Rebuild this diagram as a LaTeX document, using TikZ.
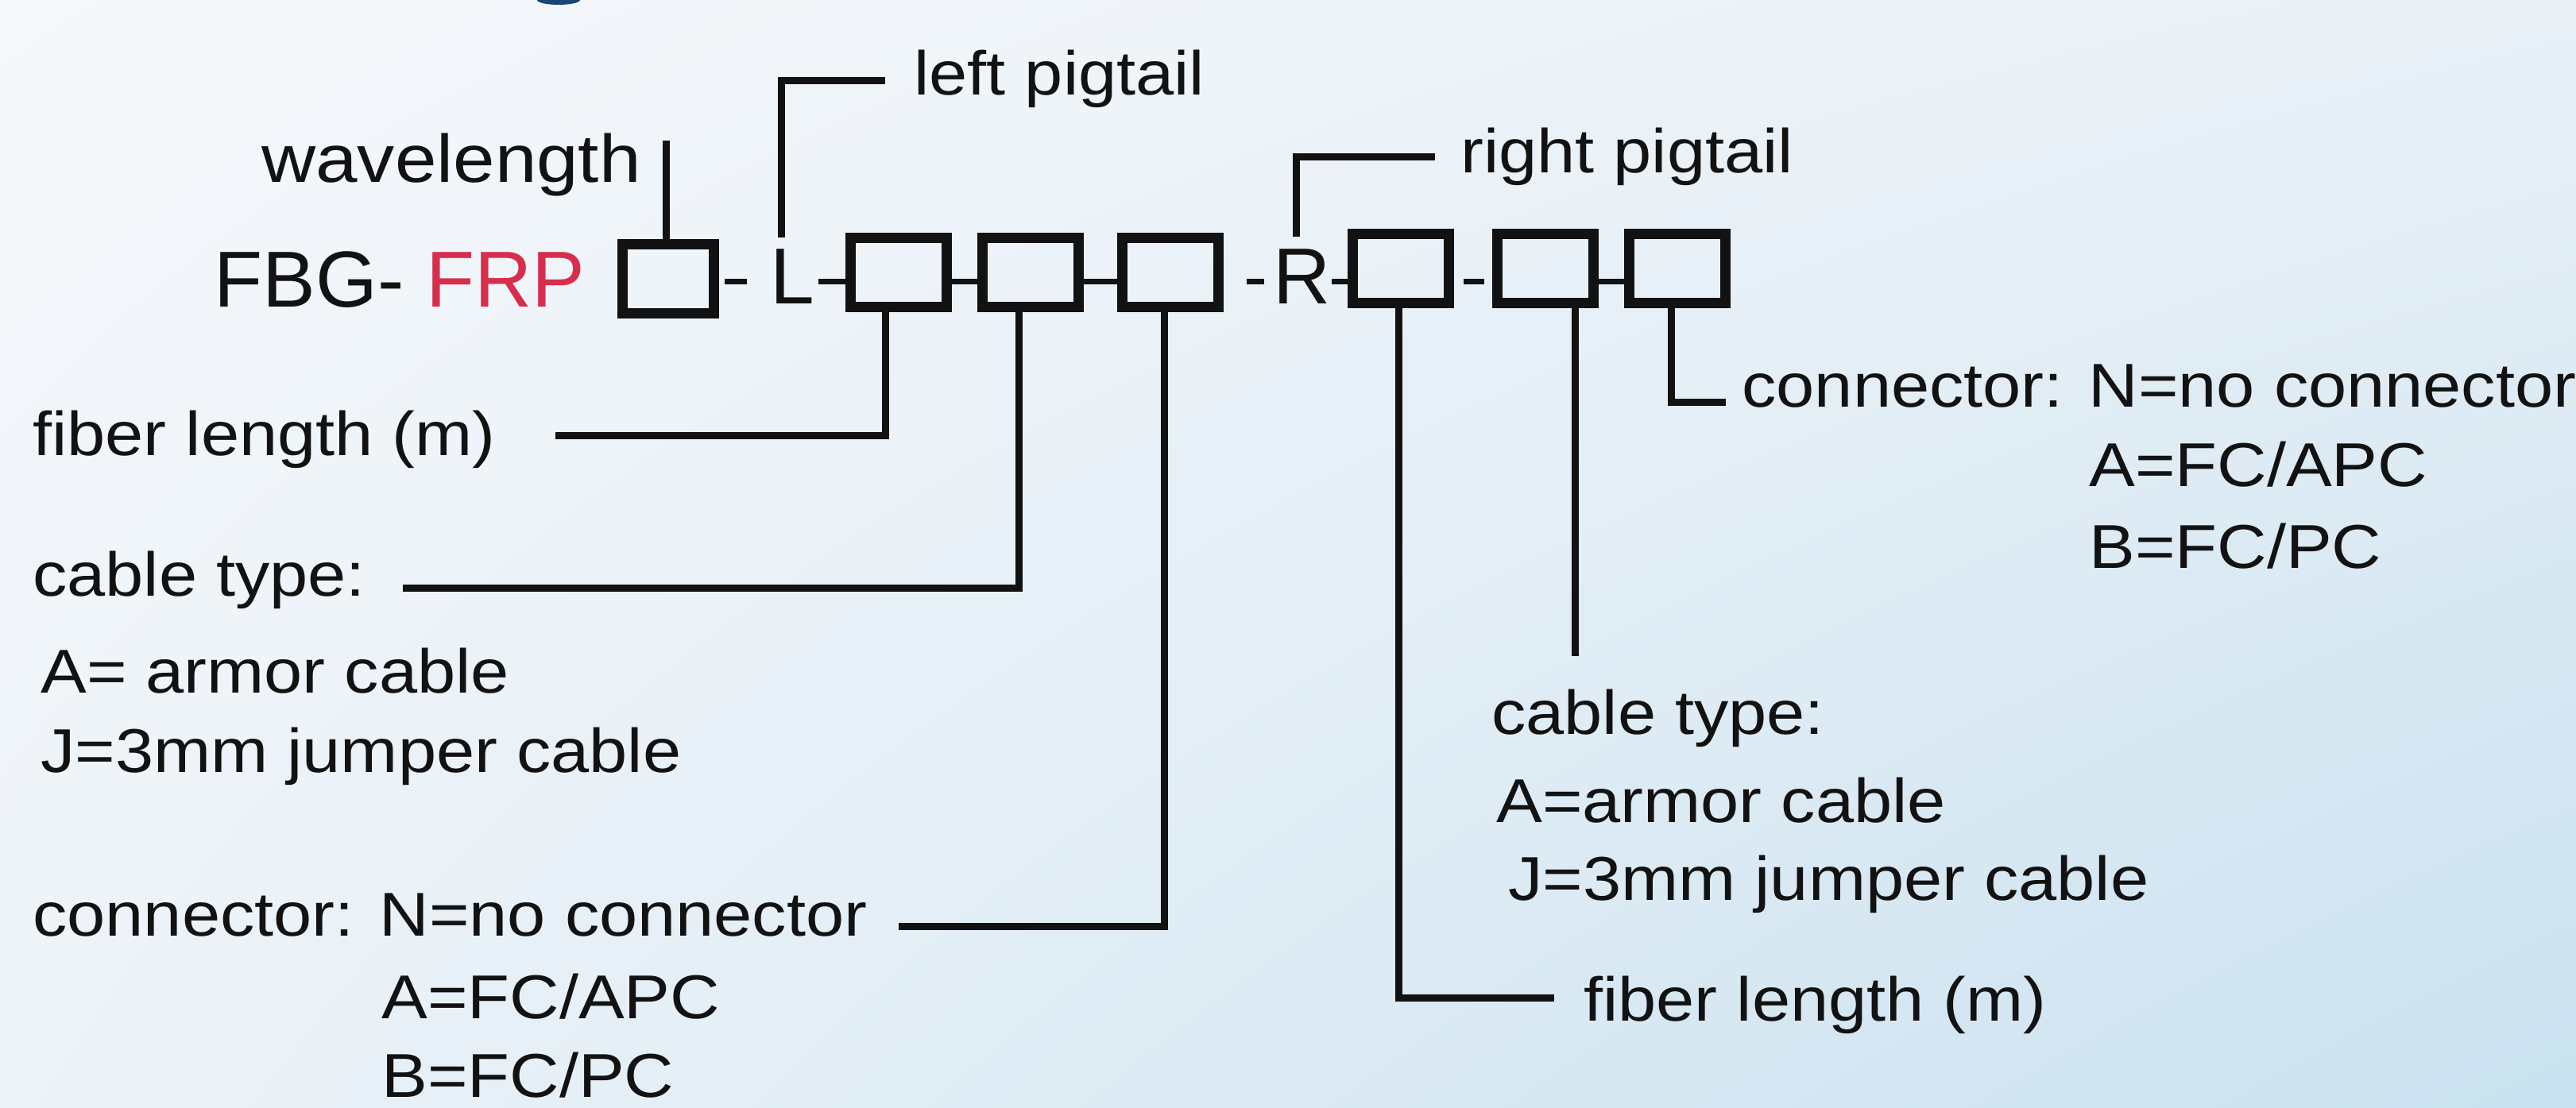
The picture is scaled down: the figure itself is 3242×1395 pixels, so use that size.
\documentclass[tikz,border=0pt]{standalone}
\usepackage{fontspec}
\setmainfont{Liberation Sans}
\newfontfamily\lblfont[FakeStretch=1.11]{Liberation Sans}
\usetikzlibrary{shadings}
\definecolor{frpred}{RGB}{214,46,76}
\definecolor{ink}{RGB}{18,18,18}
\definecolor{bgUL}{RGB}{246,248,251}
\definecolor{bgUR}{RGB}{232,240,246}
\definecolor{bgLL}{RGB}{237,243,248}
\definecolor{bgLR}{RGB}{201,225,239}
\definecolor{glyphblue}{RGB}{25,70,115}
\begin{document}
\begin{tikzpicture}[x=0.5pt,y=-0.5pt,
  box/.style={draw=ink, line width=6.5pt, minimum width=60.5pt, minimum height=43.5pt, inner sep=0pt},
  lead/.style={draw=ink, line width=4.5pt},
  joint/.style={draw=ink, line width=3.5pt},
  lbl/.style={anchor=base west, inner sep=0pt, text=ink, font=\lblfont\fontsize{39pt}{47pt}\selectfont},
  big/.style={anchor=base west, inner sep=0pt, text=ink, font=\fontsize{50pt}{60pt}\selectfont}]
\path[use as bounding box] (0,0) rectangle (3242,1395);
\clip (0,0) rectangle (3242,1395);
\shade[upper left=bgUL, upper right=bgUR, lower left=bgLL, lower right=bgLR] (0,0) rectangle (3242,1395);
\fill[glyphblue] (703,0) ellipse [x radius=13.5pt, y radius=3pt];

% code line
\node[big] (fbg) at (269,387) {FBG- \textcolor{frpred}{FRP}};
\node[big] (Lt) at (969,383) {L};
\node[big] (Rt) at (1602,383) {R};

\node[box, minimum width=57.5pt] (B1) at (841,351) {};
\node[box] (B2) at (1131,343) {};
\node[box] (B3) at (1297,343) {};
\node[box] (B4) at (1473,343) {};
\node[box] (B5) at (1763,338) {};
\node[box] (B6) at (1945,338) {};
\node[box] (B7) at (2111,338) {};

% dashes between the fields
\draw[joint] ([shift={(7,4)}]B1.east) -- ([shift={(35,4)}]B1.east);
\draw[joint] ([shift={(-34,12)}]B2.west) -- ([shift={(0,12)}]B2.west);
\draw[joint] ([yshift=-6pt]B2.east) -- ([yshift=-6pt]B3.west);
\draw[joint] ([yshift=-6pt]B3.east) -- ([yshift=-6pt]B4.west);
\draw[joint] ([shift={(29,12)}]B4.east) -- ([shift={(51,12)}]B4.east);
\draw[joint] ([shift={(-20,17)}]B5.west) -- ([shift={(0,17)}]B5.west);
\draw[joint] ([shift={(12,17)}]B5.east) -- ([shift={(-10,17)}]B6.west);
\draw[joint] ([yshift=-8.5pt]B6.east) -- ([yshift=-8.5pt]B7.west);

% labels
\node[lbl, font=\lblfont\fontsize{42.5pt}{50pt}\selectfont] (wl) at (329,230) {wavelength};
\node[lbl] (lp) at (1150,120) {left pigtail};
\node[lbl] (rp) at (1838,218) {right pigtail};
\node[lbl] (fl) at (41,574) {fiber length (m)};
\node[lbl] (ct) at (41,750) {cable type:};
\node[lbl] (ctA) at (51,872) {A= armor cable};
\node[lbl] (ctJ) at (51,972) {J=3mm jumper cable};
\node[lbl] (cn) at (41,1178) {connector: N=no connector};
\node[lbl] (cnA) at (480,1282) {A=FC/APC};
\node[lbl] (cnB) at (480,1381) {B=FC/PC};
\node[lbl] (rn) at (2192,512) {connector: N=no connector};
\node[lbl] (rnA) at (2629,612) {A=FC/APC};
\node[lbl] (rnB) at (2629,715) {B=FC/PC};
\node[lbl] (rc) at (1877,924) {cable type:};
\node[lbl] (rcA) at (1883,1035) {A=armor cable};
\node[lbl] (rcJ) at (1898,1133) {J=3mm jumper cable};
\node[lbl] (rf) at (1993,1285) {fiber length (m)};

% leader lines
\coordinate (wlT) at (838,177);
\coordinate (lpE) at (1114,102);
\coordinate (rpE) at (1806,198);
\coordinate (flE) at (699,548);
\coordinate (ctE) at (507,740);
\coordinate (cnE) at (1131,1166);
\coordinate (rfE) at (1956,1256);
\coordinate (rcE) at (1982,826);
\coordinate (rnE) at (2172,507);

\draw[lead] (wlT |- B1.north) -- (wlT);
\draw[lead] ([shift={(14,-15)}]Lt.north west) |- (lpE);
\draw[lead] ([shift={(29,-16)}]Rt.north west) |- (rpE);
\draw[lead] ([xshift=-8.5pt]B2.south) |- (flE);
\draw[lead] ([xshift=-7.5pt]B3.south) |- (ctE);
\draw[lead] ([xshift=-4pt]B4.south) |- (cnE);
\draw[lead] ([xshift=-1.5pt]B5.south) |- (rfE);
\draw[lead] (rcE |- B6.south) -- (rcE);
\draw[lead] ([xshift=-4pt]B7.south) |- (rnE);
\end{tikzpicture}
\end{document}
